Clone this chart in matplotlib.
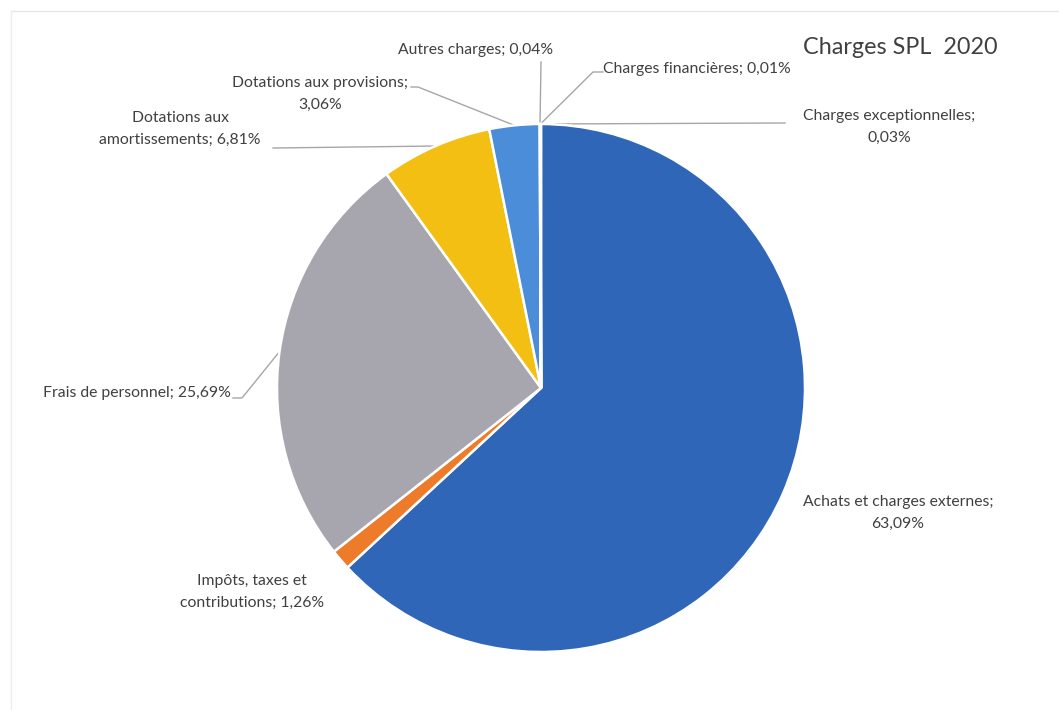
import numpy as np
import matplotlib
matplotlib.use("Agg")
import matplotlib.pyplot as plt

W, H = 1059, 710

labels = ["Achats et charges externes", "Impôts, taxes et contributions",
          "Frais de personnel", "Dotations aux amortissements",
          "Dotations aux provisions", "Autres charges",
          "Charges financières", "Charges exceptionnelles"]
values = [63.09, 1.26, 25.69, 6.81, 3.06, 0.04, 0.01, 0.03]
colors = ["#3066b8", "#ee7b2a", "#a7a6af", "#f3bf12", "#4b8dd9",
          "#4b8dd9", "#4b8dd9", "#4b8dd9"]

# label text as shown, (x, y) in pixels from top-left, leader elbow or None
label_text = ["Achats et charges externes;\n63,09%",
              "Impôts, taxes et\ncontributions; 1,26%",
              "Frais de personnel; 25,69%",
              "Dotations aux\namortissements; 6,81%",
              "Dotations aux provisions;\n3,06%",
              "Autres charges; 0,04%",
              "Charges financières; 0,01%",
              "Charges exceptionnelles;\n0,03%"]
label_pos = [(898, 513, "center"), (252, 592, "center"), (231, 393, "right"),
             (180, 129, "center"), (320, 94, "center"), (476, 50, "center"),
             (603, 69, "left"), (889, 127, "center")]
# leader: list of points (pixels) before the slice edge, None = no leader
leaders = [None, None, [(233, 398), (242, 398)], [(273, 148)],
           [(411, 87), (418, 87)], [(541, 62)], [(603, 72), (593, 72)],
           [(785, 123)]]

CX, CY, R = 541, 388, 264

plt.rcParams["font.family"] = ["Lato", "DejaVu Sans"]
fig = plt.figure(figsize=(W / 100, H / 100), dpi=100)
ax = fig.add_axes([0, 0, 1, 1])

wedges, _ = ax.pie(values, colors=colors, startangle=90, counterclock=False,
                   center=(CX, H - CY), radius=R, frame=True,
                   wedgeprops=dict(edgecolor="white", linewidth=1.8))
ax.set_xlim(0, W)
ax.set_ylim(0, H)
ax.set_aspect("auto")
ax.axis("off")

txt = "#404040"
line_c = "#a6a6a6"
for i, w in enumerate(wedges):
    x, y, ha = label_pos[i]
    ax.text(x, H - y, label_text[i], ha=ha, va="center", fontsize=11.3,
            color=txt, linespacing=1.75, multialignment="center")
    if leaders[i] is None:
        continue
    mid = np.deg2rad((w.theta1 + w.theta2) / 2)
    ex = CX + R * np.cos(mid)
    ey = CY - R * np.sin(mid)
    pts = leaders[i] + [(ex, ey)]
    xs = [p[0] for p in pts]
    ys = [H - p[1] for p in pts]
    ax.plot(xs, ys, color=line_c, lw=1.0, zorder=0)

ax.text(803, H - 47, "Charges SPL  2020", ha="left", va="center",
        fontsize=16.8, color=txt)

# faint chart border
ax.plot([11, W], [H - 11, H - 11], color="#e6e6e6", lw=1)
ax.plot([11, 11], [H - 11, 0], color="#eeeeee", lw=1)

fig.savefig("out.png", dpi=100, facecolor="white")
